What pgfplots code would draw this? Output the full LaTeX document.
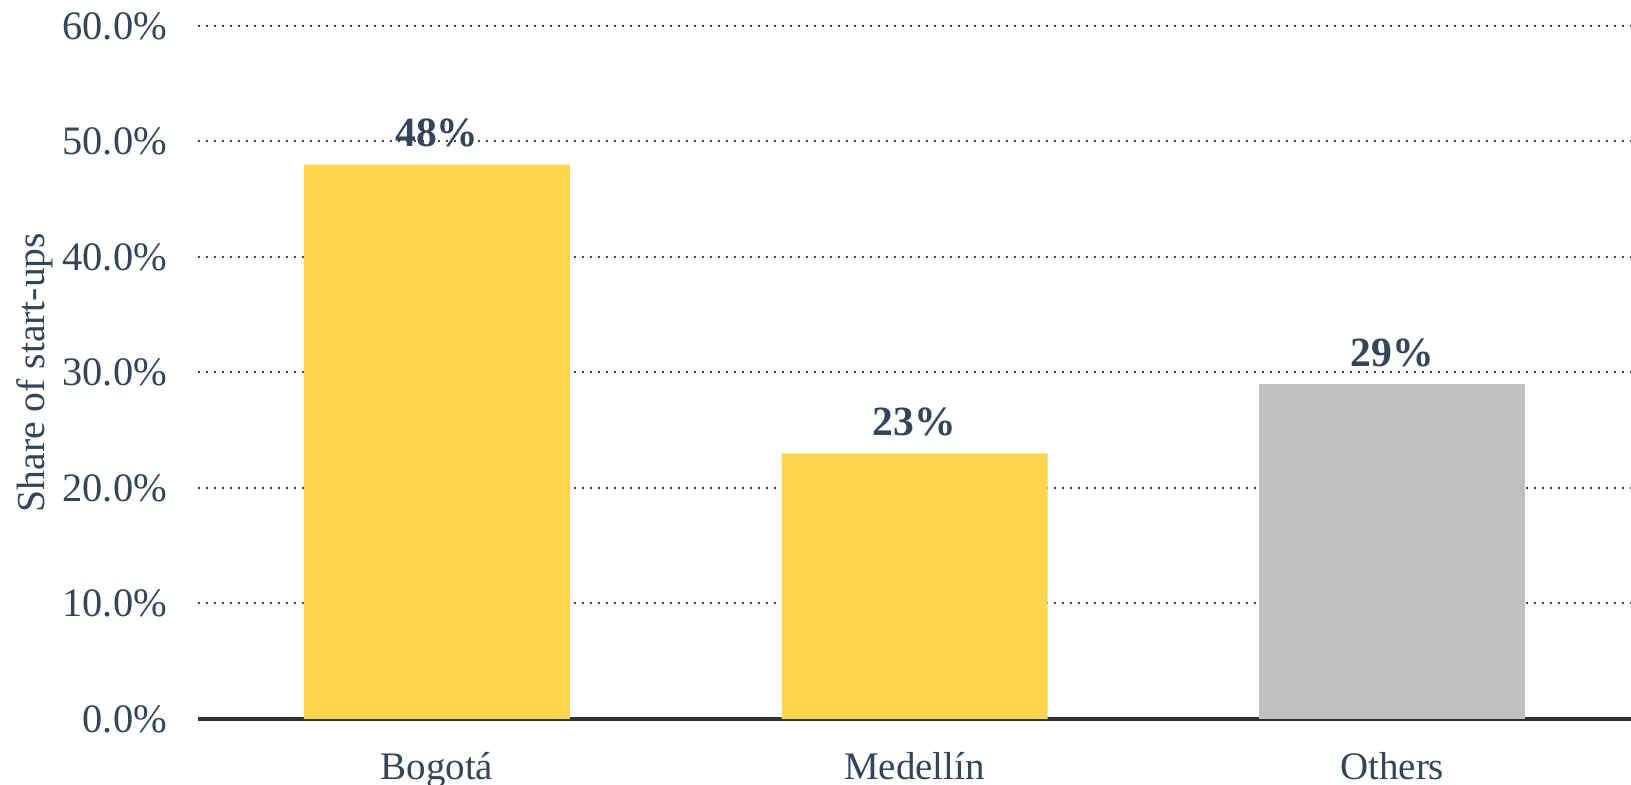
\documentclass[border=0pt]{standalone}
\usepackage{pgfplots}
\pgfplotsset{compat=1.18}
\usepackage{fontspec}
\setmainfont{Liberation Serif}
\definecolor{txt}{HTML}{334557}
\definecolor{baryel}{HTML}{FFD54F}
\definecolor{bargrey}{HTML}{BFBFBF}
\definecolor{baseln}{HTML}{333333}
\begin{document}
\begin{tikzpicture}[x=1pt,y=1pt]
\useasboundingbox (0,0) rectangle (815.5,392.5);
\begin{axis}[
  at={(99pt,33pt)}, anchor=south west,
  width=716.5pt, height=346.5pt, scale only axis,
  xmin=-0.5, xmax=2.5, ymin=0, ymax=60,
  xtick={0,1,2}, xticklabels={Bogotá,Medellín,Others},
  ytick={0,10,20,30,40,50,60},
  yticklabel={\pgfmathprintnumber[fixed,fixed zerofill,precision=1]{\tick}\%},
  /pgf/number format/assume math mode=true,
  axis y line*=left,
  y axis line style={draw=none},
  axis x line*=bottom,
  x axis line style={line width=2.4pt, color=baseln, -},
  major tick length=0pt,
  ymajorgrids, grid style={dash pattern=on 0.9pt off 3.1pt, color=txt, line width=1pt},
  tick label style={font=\fontsize{19.5}{22}\selectfont, text=txt},
  yticklabel style={xshift=-12pt, font=\fontsize{20.2}{22}\selectfont},
  xticklabel style={yshift=-13pt},
  ylabel={Share of start-ups},
  every axis y label/.style={at={([xshift=-76.5pt]rel axis cs:0,0.5)}, rotate=90, anchor=base, font=\fontsize{19.8}{22}\selectfont, text=txt},
  ybar, bar width=133pt,
  nodes near coords={\pgfmathprintnumber{\pgfplotspointmeta}\%},
  nodes near coords style={font=\bfseries\fontsize{20.8}{23}\selectfont, text=txt, anchor=south, yshift=5pt},
  clip=false,
]
\addplot[fill=baryel, draw=none, bar shift=0pt] coordinates {(0,48) (1,23)};
\addplot[fill=bargrey, draw=none, bar shift=0pt] coordinates {(2,29)};
\end{axis}
\end{tikzpicture}
\end{document}
